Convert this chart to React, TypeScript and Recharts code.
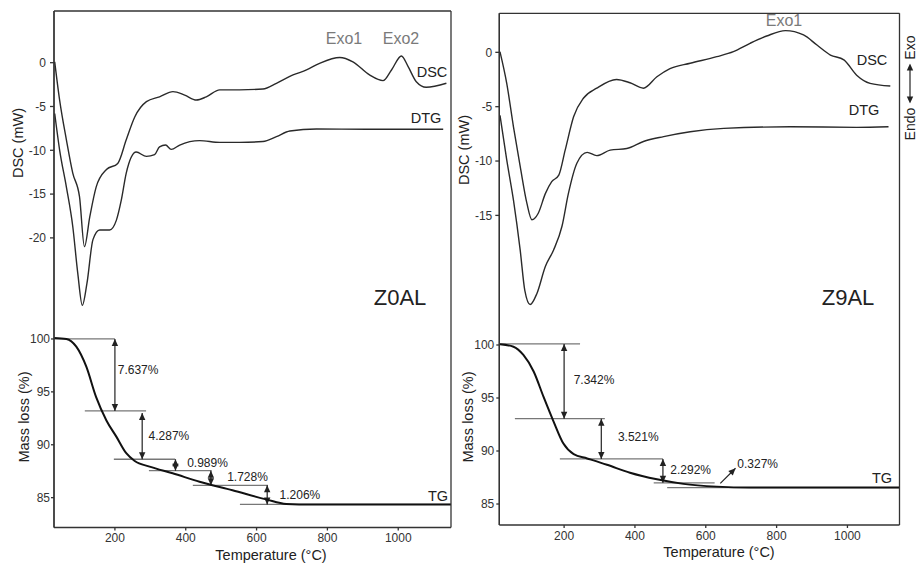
import React from "react";
import { LineChart, Line, XAxis, YAxis, ReferenceLine, ReferenceDot } from "recharts";

const FONT = "'Liberation Sans', Arial, sans-serif";
const INK = "#222";
const GREY = "#7a7a7a";
const TEMP_TICKS = [200, 400, 600, 800, 1000];
const TG_TICKS = [85, 90, 95, 100];

// ---- Z0AL ----  [temperature °C, value]
const z0Dsc = [
  [30, 0.1], [44, -4.3], [63, -8.8], [81, -12.6], [100, -15.3], [114, -21.0], [129, -17.6],
  [147, -14.2], [176, -12.2], [208, -11.5], [232, -8.8], [256, -6.2], [289, -4.45], [326, -3.9],
  [364, -3.3], [397, -3.7], [430, -4.26], [458, -3.9], [496, -3.1], [552, -3.1], [618, -3.0],
  [656, -2.35], [703, -1.4], [741, -0.83], [778, -0.07], [835, 0.6], [872, 0.1], [919, -1.4],
  [957, -2.05], [981, -0.83], [1009, 0.77], [1028, -0.45], [1051, -2.17], [1079, -2.8], [1136, -2.35],
];
const z0Dtg = [
  [30, -5.8], [44, -10], [63, -14.2], [81, -18.7], [95, -24], [108, -27.7], [121, -25.2],
  [138, -20.2], [157, -19.1], [185, -19.1], [204, -18], [218, -15.7], [232, -12.6], [260, -10.2],
  [289, -10.7], [312, -10.5], [326, -9.6], [343, -9.4], [359, -9.9], [383, -9.4], [439, -8.9],
  [496, -9.1], [552, -9.1], [618, -9.0], [656, -8.45], [694, -7.8], [769, -7.57], [910, -7.6], [1127, -7.6],
];
const z0Tg = [
  [28, 100.1], [63, 100], [91, 99.27], [119, 97.4], [147, 94.5], [176, 92.3], [204, 90.77],
  [232, 89.2], [256, 88.47], [298, 87.93], [363, 87.3], [439, 86.5], [532, 85.7], [627, 84.84],
  [684, 84.4], [720, 84.36], [1149, 84.36],
];
// level lines: [mass %, from °C, to °C]
const z0Levels = [
  [100, 28, 200], [93.2, 115, 288], [88.63, 197, 370], [87.55, 296, 473], [86.17, 420, 632], [84.36, 553, 1149],
];
// step arrows: [°C, upper %, lower %]
const z0Steps = [
  [200, 100, 93.2], [277, 93.0, 88.63], [371, 88.63, 87.55], [471, 87.55, 86.17], [630, 86.17, 84.36],
];
const z0StepText = ["7.637%", "4.287%", "0.989%", "1.728%", "1.206%"];
const z0StepTextAt = [[208, 97.1], [295, 90.86], [404, 88.25], [517, 86.93], [665, 85.25]];

// ---- Z9AL ----
const z9Dsc = [
  [19, 0.05], [38, -2.85], [57, -6.85], [76, -10.5], [95, -13.9], [109, -15.4], [127, -14.8],
  [147, -13.0], [165, -11.9], [185, -11.3], [203, -9.0], [227, -5.9], [255, -4.2], [292, -3.3],
  [348, -2.5], [386, -2.8], [424, -3.3], [462, -2.25], [499, -1.5], [556, -1.0], [631, -0.4],
  [678, 0.06], [725, 0.83], [772, 1.5], [825, 2.0], [876, 1.6], [914, 0.67], [952, -0.25],
  [990, -0.7], [1026, -2.1], [1064, -2.85], [1121, -3.1],
];
const z9Dtg = [
  [19, -5.8], [38, -9.9], [57, -13.6], [76, -18.2], [89, -21.9], [104, -23.2], [123, -22.2],
  [147, -19.7], [170, -18.2], [194, -16.0], [212, -13.0], [236, -10.2], [265, -9.2], [292, -9.5],
  [330, -9.0], [377, -8.85], [424, -8.2], [481, -7.75], [556, -7.3], [651, -7.0], [838, -6.85],
  [1026, -6.9], [1116, -6.85],
];
const z9Tg = [
  [19, 100.07], [57, 99.84], [85, 99.06], [114, 97.5], [142, 95.1], [170, 92.8], [198, 90.7],
  [227, 89.7], [265, 89.3], [321, 88.7], [386, 87.95], [462, 87.33], [537, 86.9], [631, 86.64],
  [725, 86.55], [1147, 86.55],
];
const z9Levels = [
  [100.1, 17, 245], [93.05, 61, 315], [89.25, 188, 479], [87.0, 453, 625], [86.55, 491, 1147],
];
const z9Steps = [[200, 100.1, 93.05], [305, 93.05, 89.25], [479, 89.25, 87.0]];
const z9StepText = ["7.342%", "3.521%", "2.292%", "0.327%"];
const z9StepTextAt = [[227, 96.7], [352, 91.35], [500, 88.2], [689, 88.77]];
const z9Pointer = [[641, 86.95], [684, 88.37]];

const pts = (a: number[][]) => a.map(([t, v]) => ({ t, v }));

function head(x: number, y: number, ux: number, uy: number) {
  const L = 7, w = 3.2;
  const bx = x - ux * L, by = y - uy * L;
  return `${x},${y} ${bx - uy * w},${by + ux * w} ${bx + uy * w},${by - ux * w}`;
}

function arrowShape(both: boolean) {
  return (p: any) => {
    const { x1, y1, x2, y2 } = p;
    const len = Math.hypot(x2 - x1, y2 - y1) || 1;
    const ux = (x2 - x1) / len, uy = (y2 - y1) / len;
    return (
      <g>
        <line x1={x1} y1={y1} x2={x2} y2={y2} stroke={INK} strokeWidth={1.2} />
        {both && <polygon points={head(x1, y1, -ux, -uy)} fill={INK} />}
        <polygon points={head(x2, y2, ux, uy)} fill={INK} />
      </g>
    );
  };
}

const textDot = (s: string) => (p: any) => (
  <text x={p.cx} y={p.cy} fontSize={12} fontFamily={FONT} fill={INK} dominantBaseline="central">
    {s}
  </text>
);

function Txt({ x, y, size = 14.5, color = INK, rotate = 0, children }: any) {
  return (
    <div
      style={{
        position: "absolute", left: x, top: y, fontSize: size, color, fontFamily: FONT, lineHeight: 1,
        whiteSpace: "nowrap", transform: `translate(-50%, -50%) rotate(${rotate}deg)`,
        display: "flex", alignItems: "center",
      }}
    >
      {children}
    </div>
  );
}

const W = 460, H = 566, XH = 30;

function Panel(props: any) {
  const { left, plot, xDom, dscDom, dscTicks, tgDom, dsc, dtg, tg, levels, steps, stepText, stepTextAt, pointer, dscTick, tgTick } = props;
  const tickStyle = { fontSize: 12, fill: "#333", fontFamily: FONT };
  return (
    <>
      <div style={{ position: "absolute", left, top: 0 }}>
        {/* TG chart; the 1px top / right axes close the frame */}
        <LineChart width={W} height={H} margin={{ top: plot.t - 1, right: W - plot.r - 1, left: 0, bottom: H - plot.b - XH }}>
          <XAxis type="number" dataKey="t" domain={xDom} ticks={TEMP_TICKS} allowDataOverflow height={XH}
            tickSize={3} tickMargin={3} tick={tickStyle} stroke="#333" strokeWidth={1.3} />
          <XAxis xAxisId="top" orientation="top" type="number" dataKey="t" domain={xDom} ticks={TEMP_TICKS} allowDataOverflow height={1}
            tick={false} tickLine={false} stroke="#333" strokeWidth={1.3} />
          <YAxis type="number" domain={tgDom} ticks={TG_TICKS} allowDataOverflow width={plot.l}
            tickSize={3} tickMargin={tgTick} tick={tickStyle} stroke="#333" strokeWidth={1.3} />
          <YAxis yAxisId="right" orientation="right" type="number" domain={tgDom} ticks={TG_TICKS} allowDataOverflow width={1}
            tick={false} tickLine={false} stroke="#333" strokeWidth={1.3} />
          {levels.map(([v, a, b]: number[], i: number) => (
            <ReferenceLine key={"l" + i} segment={[{ x: a, y: v }, { x: b, y: v }]} stroke="#777" strokeWidth={1.3} />
          ))}
          {steps.map(([t, a, b]: number[], i: number) => (
            <ReferenceLine key={"s" + i} segment={[{ x: t, y: a }, { x: t, y: b }]} shape={arrowShape(true)} />
          ))}
          {pointer && (
            <ReferenceLine segment={[{ x: pointer[0][0], y: pointer[0][1] }, { x: pointer[1][0], y: pointer[1][1] }]}
              shape={arrowShape(false)} />
          )}
          {stepText.map((s: string, i: number) => (
            <ReferenceDot key={"t" + i} x={stepTextAt[i][0]} y={stepTextAt[i][1]} shape={textDot(s)} />
          ))}
          <Line data={pts(tg)} dataKey="v" type="monotone" dot={false} stroke="#111" strokeWidth={2} isAnimationActive={false} />
          <Line data={pts(tg)} dataKey="v" xAxisId="top" yAxisId="right" stroke="none" dot={false} isAnimationActive={false} />
        </LineChart>
      </div>
      <div style={{ position: "absolute", left, top: 0 }}>
        <LineChart width={W} height={H} margin={{ top: plot.t, right: W - plot.r, left: 0, bottom: H - plot.b }}>
          <XAxis type="number" dataKey="t" domain={xDom} allowDataOverflow hide />
          <YAxis type="number" domain={dscDom} ticks={dscTicks} allowDataOverflow width={plot.l}
            tickSize={4} tickMargin={dscTick} tick={tickStyle} stroke="#333" strokeWidth={1.3} />
          <Line data={pts(dsc)} dataKey="v" type="monotone" dot={false} stroke="#2a2a2a" strokeWidth={1.4} isAnimationActive={false} />
          <Line data={pts(dtg)} dataKey="v" type="monotone" dot={false} stroke="#2a2a2a" strokeWidth={1.4} isAnimationActive={false} />
        </LineChart>
      </div>
    </>
  );
}

export default function App() {
  return (
    <div style={{ position: "absolute", left: 0, top: 0, width: 917, height: 566, background: "#fff", overflow: "hidden" }}>
      <Panel
        left={0}
        plot={{ l: 54, r: 451, t: 11, b: 527.5 }}
        xDom={[28, 1149]}
        dscDom={[-53.06, 5.9]}
        dscTicks={[-20, -15, -10, -5, 0]}
        tgDom={[82.18, 131.0]}
        dsc={z0Dsc} dtg={z0Dtg} tg={z0Tg}
        levels={z0Levels} steps={z0Steps} stepText={z0StepText} stepTextAt={z0StepTextAt}
        dscTick={4} tgTick={1}
      />
      <Panel
        left={457}
        plot={{ l: 42.3, r: 442.5, t: 13.3, b: 525 }}
        xDom={[17, 1147]}
        dscDom={[-43.48, 3.59]}
        dscTicks={[-15, -10, -5, 0]}
        tgDom={[83.02, 131.29]}
        dsc={z9Dsc} dtg={z9Dtg} tg={z9Tg}
        levels={z9Levels} steps={z9Steps} stepText={z9StepText} stepTextAt={z9StepTextAt} pointer={z9Pointer}
        dscTick={3} tgTick={2}
      />

      <Txt x={17.5} y={143} rotate={-90}>DSC (mW)</Txt>
      <Txt x={24} y={417} rotate={-90}>Mass loss (%)</Txt>
      <Txt x={271} y={555}>Temperature (°C)</Txt>
      <Txt x={344} y={39} size={16} color={GREY}>Exo1</Txt>
      <Txt x={401} y={39} size={16} color={GREY}>Exo2</Txt>
      <Txt x={432} y={72}>DSC</Txt>
      <Txt x={426} y={118}>DTG</Txt>
      <Txt x={400} y={298} size={22}>Z0AL</Txt>
      <Txt x={438} y={496}>TG</Txt>

      <Txt x={464} y={150} rotate={-90}>DSC (mW)</Txt>
      <Txt x={468} y={417} rotate={-90}>Mass loss (%)</Txt>
      <Txt x={719} y={552}>Temperature (°C)</Txt>
      <Txt x={784} y={21} size={16} color={GREY}>Exo1</Txt>
      <Txt x={872} y={60}>DSC</Txt>
      <Txt x={864} y={110}>DTG</Txt>
      <Txt x={848} y={298} size={22}>Z9AL</Txt>
      <Txt x={882} y={478}>TG</Txt>

      <Txt x={910} y={88} size={14} rotate={-90}>
        <span>Endo</span>
        <svg width={40} height={10} style={{ margin: "0 4px" }}>
          <line x1={4} y1={5} x2={36} y2={5} stroke={INK} strokeWidth={1.2} />
          <polygon points="0,5 7,1.8 7,8.2" fill={INK} />
          <polygon points="40,5 33,1.8 33,8.2" fill={INK} />
        </svg>
        <span>Exo</span>
      </Txt>
    </div>
  );
}
